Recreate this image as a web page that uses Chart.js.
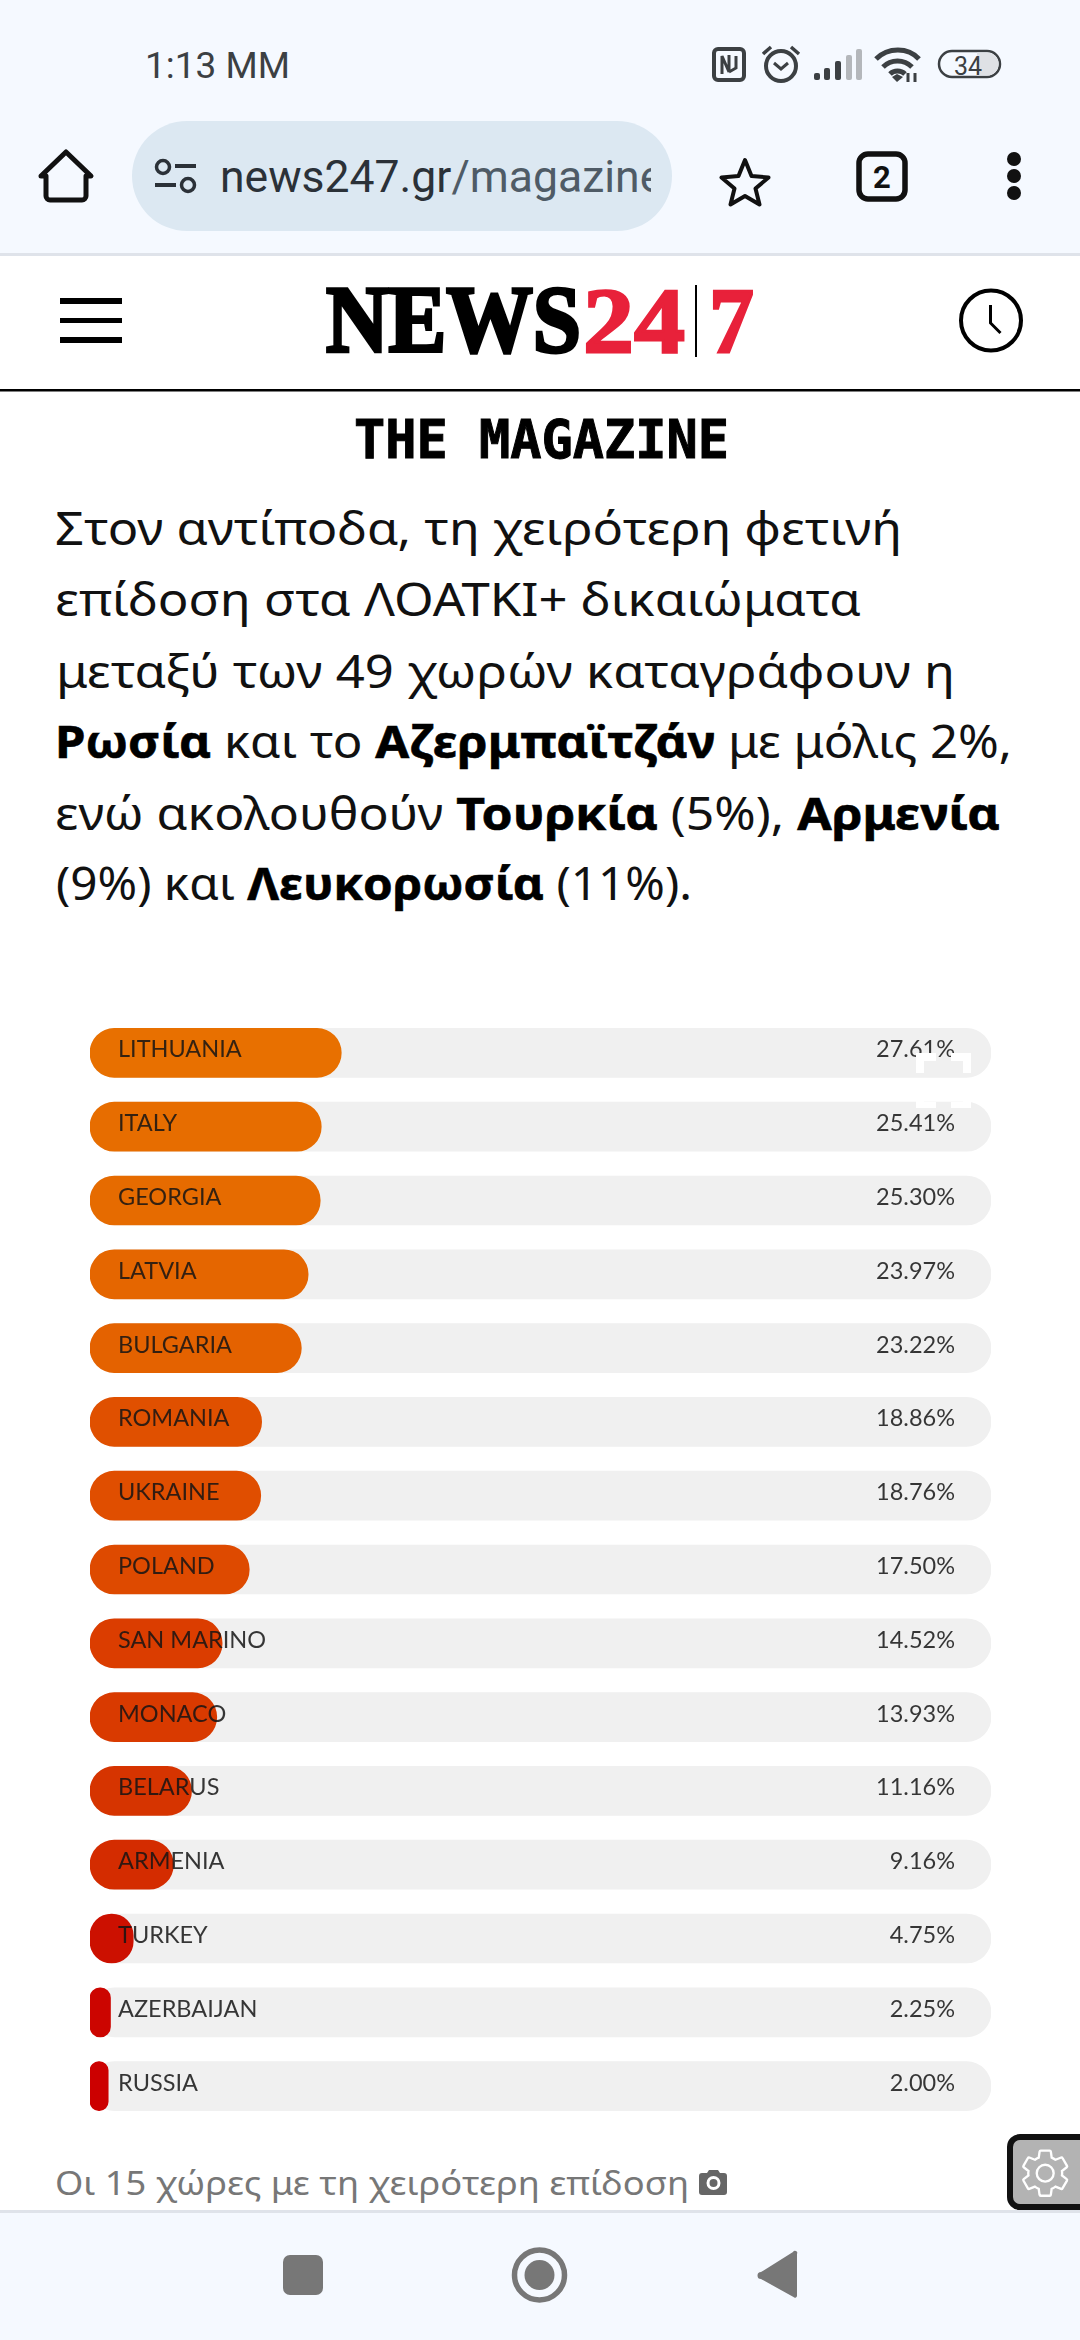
<!DOCTYPE html>
<html lang="el">
<head>
<meta charset="utf-8">
<title>NEWS247</title>
<script src="https://cdn.jsdelivr.net/npm/chart.js@4"></script>
<style>
    html, body { margin: 0; padding: 0; background: #fff; }
    body { position: relative; width: 1080px; height: 2340px; overflow: hidden; }
    #page, #overlay { position: absolute; left: 0; top: 0; }
    #chart { position: absolute; left: 90px; top: 1016px; }
    .para { font-family: "Noto Sans", sans-serif; font-size: 45px; fill: #111; }
    .para tspan { font-weight: 700; fill: #000; stroke: #000; stroke-width: 0.6; }
</style>
</head>
<body>
<svg id="page" width="1080" height="2340" viewBox="0 0 1080 2340">
    <!-- browser top bar -->
    <rect x="0" y="0" width="1080" height="253" fill="#F5F9FF"/>
    <rect x="0" y="253" width="1080" height="3" fill="#DFE3EA"/>
    <text x="145" y="78" font-family="Roboto" font-size="36" fill="#3C4043" textLength="145" lengthAdjust="spacingAndGlyphs">1:13 ΜΜ</text>

    <!-- status icons -->
    <rect x="714" y="49" width="30" height="31" rx="4" fill="none" stroke="#3C4043" stroke-width="4"/>
    <path d="M722 74V56l7 16V55M729 72l7-4V56" fill="none" stroke="#3C4043" stroke-width="3"/>
    <circle cx="781" cy="66" r="15" fill="none" stroke="#3C4043" stroke-width="4"/>
    <path d="M774 63l7 6 7-6" fill="none" stroke="#3C4043" stroke-width="3"/>
    <path d="M763 54l8-7M799 54l-8-7" fill="none" stroke="#3C4043" stroke-width="3.5"/>
    <rect x="814" y="73" width="6" height="7" rx="2" fill="#3C4043"/>
    <rect x="824" y="68" width="6" height="12" rx="2" fill="#3C4043"/>
    <rect x="835" y="61" width="6" height="19" rx="2" fill="#3C4043"/>
    <rect x="846" y="55" width="6" height="25" rx="2" fill="#B4B7BB"/>
    <rect x="856" y="49" width="6" height="31" rx="2" fill="#B4B7BB"/>
    <path d="M876 59c12-12 32-12 43 0M883 67c8-8 21-8 29 0M890 74c4-4 11-4 15 0" fill="none" stroke="#3C4043" stroke-width="5"/>
    <path d="M892 77l5-3 6 3-6 5z" fill="#3C4043"/>
    <path d="M908 82v-9M915 82v-9" stroke="#3C4043" stroke-width="3"/>
    <rect x="939" y="51" width="61" height="26" rx="13" fill="#F5F9FF" stroke="#3C4043" stroke-width="2.5"/>
    <path d="M977 52.5h10a11.500 11.500 0 0 1 0 23h-10z" fill="#DFE1E5"/>
    <text x="954" y="75" font-family="Roboto" font-size="25" fill="#3C4043">34</text>

    <!-- address bar row -->
    <path d="M46 176L41 176L66 152L91 176L86 176V196a4 4 0 0 1-4 4H50a4 4 0 0 1-4-4z" fill="none" stroke="#111" stroke-width="5" stroke-linejoin="round"/>
    <rect x="132" y="121" width="540" height="110" rx="55" fill="#DCE8F2"/>
    <circle cx="163" cy="167" r="6.500" fill="none" stroke="#2B3138" stroke-width="3.500"/>
    <rect x="175" y="164" width="21" height="4" fill="#2B3138"/>
    <rect x="155" y="183" width="21" height="4" fill="#2B3138"/>
    <circle cx="188" cy="185" r="6.500" fill="none" stroke="#2B3138" stroke-width="3.500"/>
    <clipPath id="urlClip"><rect x="215" y="130" width="436" height="90"/></clipPath>
    <text x="220" y="192" clip-path="url(#urlClip)" font-family="Roboto" font-size="44.500" fill="#2B3138">news247.gr<tspan fill="#4F5B66">/magazine</tspan></text>
    <path d="M745 160l6.500 16 17 1.500-13 11 4 16-14.500-8.500-14.500 8.500 4-16-13-11 17-1.500z" fill="none" stroke="#111" stroke-width="4" stroke-linejoin="round"/>
    <rect x="859" y="154" width="46" height="45" rx="9" fill="none" stroke="#111" stroke-width="5.500"/>
    <text x="882" y="188" text-anchor="middle" font-family="Roboto" font-weight="700" font-size="31" fill="#111">2</text>
    <circle cx="1014" cy="159" r="7" fill="#111"/>
    <circle cx="1014" cy="176" r="7" fill="#111"/>
    <circle cx="1014" cy="193" r="7" fill="#111"/>

    <!-- site header -->
    <rect x="60" y="298" width="62" height="6" fill="#000"/>
    <rect x="60" y="318" width="62" height="5" fill="#000"/>
    <rect x="60" y="337" width="62" height="6" fill="#000"/>
    <text x="326" y="352" font-family="Liberation Serif" font-weight="700" font-size="96" stroke="#000" stroke-width="3.500" fill="#000" textLength="255" lengthAdjust="spacingAndGlyphs">NEWS</text>
    <text x="583" y="352" font-family="Liberation Serif" font-weight="700" font-size="94" stroke="#E8213A" stroke-width="2.500" fill="#E8213A" textLength="102" lengthAdjust="spacingAndGlyphs">24</text>
    <rect x="695" y="285" width="2" height="72" fill="#000"/>
    <text x="709" y="352" font-family="Liberation Serif" font-weight="700" font-size="94" stroke="#E8213A" stroke-width="2.500" fill="#E8213A" textLength="45" lengthAdjust="spacingAndGlyphs">7</text>
    <circle cx="991" cy="320.500" r="30" fill="none" stroke="#000" stroke-width="4"/>
    <path d="M990.500 305V323L1000.500 333" fill="none" stroke="#000" stroke-width="3"/>
    <rect x="0" y="389" width="1080" height="2.500" fill="#000"/>
    <text x="354" y="458" font-family="DejaVu Sans Mono" font-weight="700" font-size="54" stroke="#000" stroke-width="1" fill="#000" textLength="375" lengthAdjust="spacingAndGlyphs">THE MAGAZINE</text>

    <!-- article text -->
    <text class="para" x="55" y="545" textLength="847" lengthAdjust="spacingAndGlyphs">Στον αντίποδα, τη χειρότερη φετινή</text>
    <text class="para" x="55" y="616" textLength="806" lengthAdjust="spacingAndGlyphs">επίδοση στα ΛΟΑΤΚΙ+ δικαιώματα</text>
    <text class="para" x="56" y="688" textLength="899" lengthAdjust="spacingAndGlyphs">μεταξύ των 49 χωρών καταγράφουν η</text>
    <text class="para" x="55" y="758" textLength="957" lengthAdjust="spacingAndGlyphs"><tspan>Ρωσία</tspan> και το <tspan>Αζερμπαϊτζάν</tspan> με μόλις 2%,</text>
    <text class="para" x="55" y="830" textLength="945" lengthAdjust="spacingAndGlyphs">ενώ ακολουθούν <tspan>Τουρκία</tspan> (5%), <tspan>Αρμενία</tspan></text>
    <text class="para" x="56" y="900" textLength="636" lengthAdjust="spacingAndGlyphs">(9%) και <tspan>Λευκορωσία</tspan> (11%).</text>

    <!-- caption + camera -->
    <text x="55" y="2195" font-family="Noto Sans" font-size="33" fill="#777" textLength="634" lengthAdjust="spacingAndGlyphs">Οι 15 χώρες με τη χειρότερη επίδοση</text>
    <path d="M699 2176a3 3 0 0 1 3-3h5l2-3h9l2 3h4a3 3 0 0 1 3 3v16a3 3 0 0 1-3 3h-22a3 3 0 0 1-3-3z" fill="#666"/>
    <circle cx="713.500" cy="2183" r="5.500" fill="none" stroke="#fff" stroke-width="3"/>

    <!-- bottom nav -->
    <rect x="0" y="2210" width="1080" height="130" fill="#F5F9FF"/>
    <rect x="0" y="2210" width="1080" height="3" fill="#DFE3EA"/>
    <rect x="283" y="2255" width="40" height="40" rx="7" fill="#777"/>
    <circle cx="539.500" cy="2275" r="25" fill="none" stroke="#777" stroke-width="5.500"/>
    <circle cx="539.500" cy="2275" r="15" fill="#777"/>
    <path d="M797 2254V2296a2 2 0 0 1-3.500 1L761 2279a3 3 0 0 1 0-7l32-20a2 2 0 0 1 4 2z" fill="#777"/>
</svg>

<canvas id="chart" width="901" height="1107"></canvas>

<svg id="overlay" width="1080" height="2340" viewBox="0 0 1080 2340">
    <!-- white fullscreen corners sitting on top of the chart -->
    <path d="M916 1053h20v8h-12v12h-8zM971 1053h-20v8h12v12h8zM916 1108h20v-6h-12v-12h-8zM971 1108h-20v-6h12v-12h8z" fill="#fff"/>
    <!-- settings button -->
    <rect x="1010" y="2137" width="80" height="70" rx="10" fill="#B3B3B3" stroke="#111" stroke-width="6"/>
    <g transform="translate(1017 2145) scale(2.350)">
        <path d="M19.14 12.94c.04-.3.06-.61.06-.94 0-.32-.02-.64-.07-.94l2.03-1.58c.18-.14.23-.41.12-.61l-1.92-3.32c-.12-.22-.37-.29-.59-.22l-2.39.96c-.5-.38-1.03-.7-1.62-.94l-.36-2.54c-.04-.24-.24-.41-.48-.41h-3.84c-.24 0-.43.17-.47.41l-.36 2.54c-.59.24-1.13.57-1.62.94l-2.39-.96c-.22-.08-.47 0-.59.22L2.74 8.87c-.12.21-.08.47.12.61l2.03 1.58c-.05.3-.09.63-.09.94s.02.64.07.94l-2.03 1.58c-.18.14-.23.41-.12.61l1.92 3.32c.12.22.37.29.59.22l2.39-.96c.5.38 1.03.7 1.62.94l.36 2.54c.05.24.24.41.48.41h3.84c.24 0 .44-.17.47-.41l.36-2.54c.59-.24 1.13-.56 1.62-.94l2.39.96c.22.08.47 0 .59-.22l1.92-3.32c.12-.22.07-.47-.12-.61l-2.01-1.58zM12 15.6c-1.98 0-3.6-1.62-3.6-3.6s1.62-3.6 3.6-3.6 3.6 1.62 3.6 3.6-1.62 3.6-3.6 3.6z" fill="none" stroke="#fff" stroke-width="1"/>
    </g>
</svg>

<script>
const countries = ['LITHUANIA', 'ITALY', 'GEORGIA', 'LATVIA', 'BULGARIA', 'ROMANIA', 'UKRAINE', 'POLAND',
    'SAN MARINO', 'MONACO', 'BELARUS', 'ARMENIA', 'TURKEY', 'AZERBAIJAN', 'RUSSIA'];
const scores = [27.61, 25.41, 25.30, 23.97, 23.22, 18.86, 18.76, 17.50, 14.52, 13.93, 11.16, 9.16, 4.75, 2.25, 2.00];
// grey track behind every bar, runs to the end of the axis
const trackValues = [99, 99, 99, 99, 99, 99, 99, 99, 99, 99, 99, 99, 99, 99, 99];

const barColors = ['#E87000', '#E76D00', '#E66B00', '#E56600', '#E46200', '#E05000', '#E04E00', '#DE4A00',
    '#DB3D00', '#D93A00', '#D63400', '#D42C00', '#CC1000', '#CC0500', '#CC0000'];

// names and percentages go on top of the bars, like the original
const rowLabels = {
    id: 'rowLabels',
    afterDatasetsDraw(chart) {
        const ctx = chart.ctx;
        const yScale = chart.scales.y;
        ctx.save();
        ctx.font = '23.5px Lato';
        ctx.fillStyle = 'rgba(20, 20, 20, 0.85)';
        ctx.textBaseline = 'middle';
        countries.forEach((name, i) => {
            const y = yScale.getPixelForValue(i) - 3;
            ctx.textAlign = 'left';
            ctx.fillText(name, 28, y);
            ctx.textAlign = 'right';
            ctx.fillText(scores[i].toFixed(2) + '%', 865, y);
        });
        ctx.restore();
    }
};

new Chart(document.getElementById('chart'), {
    type: 'bar',
    data: {
        labels: countries,
        datasets: [
            {
                data: scores,
                backgroundColor: barColors,
                borderRadius: 25,
                borderSkipped: false,
                barThickness: 49,
                grouped: false,
                order: 1
            },
            {
                data: trackValues,
                backgroundColor: '#F0F0F0',
                borderRadius: 25,
                borderSkipped: false,
                barThickness: 49,
                grouped: false,
                order: 2
            }
        ]
    },
    options: {
        indexAxis: 'y',
        responsive: false,
        animation: false,
        devicePixelRatio: 1,
        layout: { padding: 0 },
        plugins: {
            legend: { display: false },
            tooltip: { enabled: false }
        },
        scales: {
            x: { display: false, min: 0, max: 99 },
            y: { display: false }
        }
    },
    plugins: [rowLabels]
});
</script>
</body>
</html>
